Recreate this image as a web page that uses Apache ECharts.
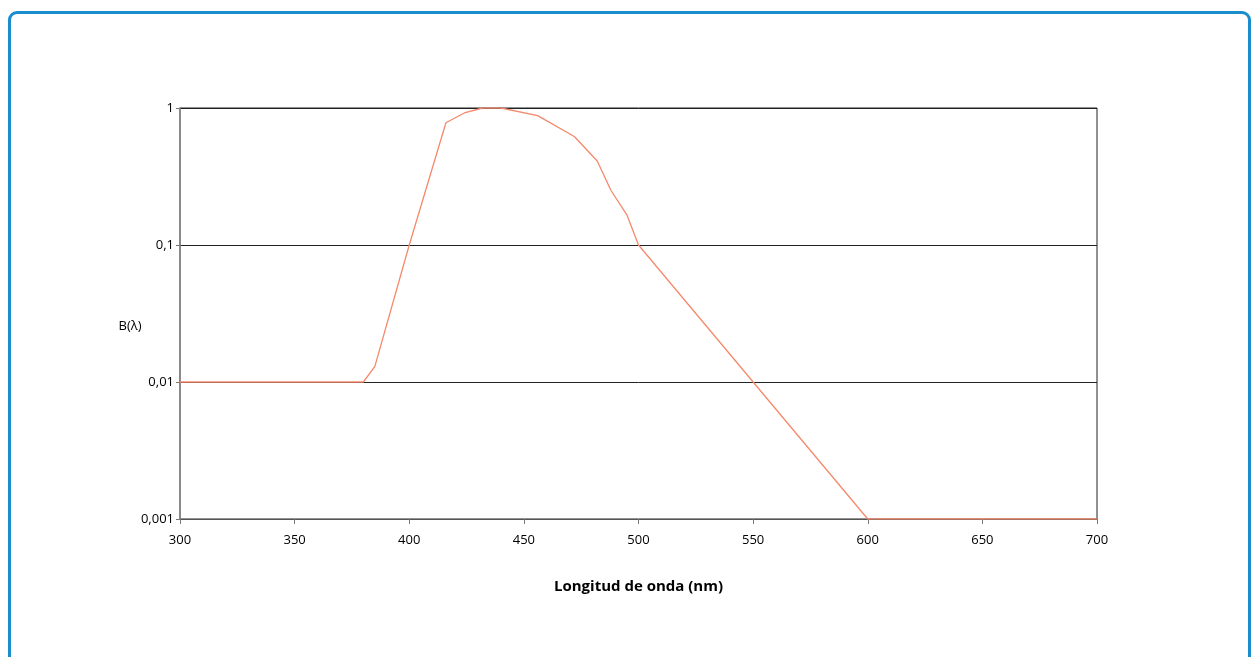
<!DOCTYPE html>
<html>
<head>
<meta charset="utf-8">
<script src="https://cdn.jsdelivr.net/npm/echarts@6/dist/echarts.min.js"></script>
<style>
html,body{margin:0;padding:0;background:#fff;overflow:hidden;}
#frame{position:absolute;left:8px;top:11px;width:1243px;height:700px;border:3px solid #1a8dcc;border-radius:9px;box-sizing:border-box;}
#chart{position:absolute;left:0;top:0;width:1255px;height:657px;}
</style>
</head>
<body>
<div id="frame"></div>
<div id="chart"></div>
<script>
const wavelengths = [300, 380, 385, 400, 416, 424, 432, 440, 456, 472, 482, 488, 495, 500, 550, 600, 700];
const bValues    = [0.01, 0.01, 0.013, 0.1, 0.78, 0.92, 1.0, 1.0, 0.88, 0.62, 0.41, 0.25, 0.165, 0.1, 0.01, 0.001, 0.001];
const xTicks = [300, 350, 400, 450, 500, 550, 600, 650, 700];
const yTickLabels = {0.001: '0,001', 0.01: '0,01', 0.1: '0,1', 1: '1'};
const xName = 'Longitud de onda (nm)';
const yName = 'B(λ)';

const chart = echarts.init(document.getElementById('chart'), null, {renderer: 'canvas'});
const font = '"Open Sans", "Noto Sans", sans-serif';
chart.setOption({
  animation: false,
  backgroundColor: 'transparent',
  grid: {left: 180, right: 158, top: 108, bottom: 138, show: true, borderColor: '#222', borderWidth: 1, backgroundColor: 'transparent'},
  graphic: [{
    type: 'text', x: 130, y: 326,
    style: {text: yName, font: '13px ' + font, fill: '#000', align: 'center', verticalAlign: 'middle'}
  }],
  xAxis: {
    type: 'value', min: xTicks[0], max: xTicks[xTicks.length - 1], interval: 50,
    name: xName, nameLocation: 'middle', nameGap: 60,
    nameTextStyle: {fontFamily: font, fontWeight: 'bold', fontSize: 15, color: '#000'},
    axisLine: {show: true, lineStyle: {color: '#555', width: 1}},
    axisTick: {show: true, length: 5, lineStyle: {color: '#777'}},
    axisLabel: {fontFamily: font, fontSize: 13, color: '#000', margin: 15},
    splitLine: {show: false}
  },
  yAxis: {
    type: 'log', logBase: 10, min: 0.001, max: 1,
    axisLine: {show: true, lineStyle: {color: '#888', width: 1.5}},
    axisTick: {show: true, length: 4, lineStyle: {color: '#777'}},
    axisLabel: {fontFamily: font, fontSize: 13, color: '#000', margin: 6,
      formatter: v => yTickLabels[+v.toPrecision(3)] || String(v).replace('.', ',')},
    splitLine: {show: true, lineStyle: {color: '#222', width: 1}},
    minorTick: {show: false}
  },
  series: [{
    type: 'line',
    data: wavelengths.map((w, i) => [w, bValues[i]]),
    showSymbol: false,
    lineStyle: {color: '#f5896b', width: 1.3},
    itemStyle: {color: '#f5896b'}
  }]
});
</script>
</body>
</html>
